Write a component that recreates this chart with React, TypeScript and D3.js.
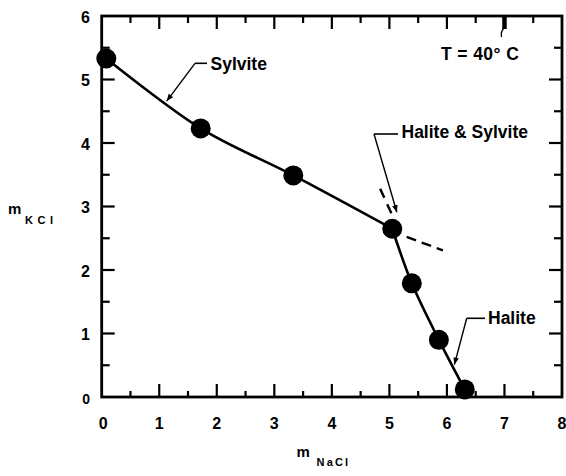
import React from "react";
import * as d3 from "d3";

// Solubility data at 40 °C (molality)
const sylviteNaCl = [0.08, 1.72, 3.33, 5.05];
const sylviteKCl = [5.33, 4.23, 3.49, 2.65];
const haliteNaCl = [5.05, 5.39, 5.86, 6.31];
const haliteKCl = [2.65, 1.79, 0.9, 0.12];

// Dashed metastable extensions
const haliteExtNaCl = [4.84, 5.04];
const haliteExtKCl = [3.28, 2.88];
const sylviteExtNaCl = [5.3, 5.93];
const sylviteExtKCl = [2.52, 2.31];

const xTicks = [0, 1, 2, 3, 4, 5, 6, 7, 8];
const yTicks = [0, 1, 2, 3, 4, 5, 6];
const xMinor = [0.5, 1.5, 2.5, 3.5, 4.5, 5.5, 6.5, 7.5];
const yMinor = [0.5, 1.5, 2.5, 3.5, 4.5, 5.5];

const labelTexts = ["Sylvite", "Halite & Sylvite", "Halite"];
// leader tips on the curve (NaCl, KCl)
const labelTipNaCl = [1.13, 5.13, 6.13];
const labelTipKCl = [4.66, 2.91, 0.51];

const W = 566;
const H = 476;
const FONT = "'Liberation Sans', Arial, Helvetica, sans-serif";

export default function App() {
  const x = d3.scaleLinear().domain([0, 8]).range([101.7, 562]);
  const y = d3.scaleLinear().domain([0, 6]).range([397, 16]);

  const line = d3
    .line<[number, number]>()
    .x((d) => x(d[0]))
    .y((d) => y(d[1]))
    .curve(d3.curveCatmullRom.alpha(0.5));
  const straight = d3
    .line<[number, number]>()
    .x((d) => x(d[0]))
    .y((d) => y(d[1]));

  const sylPts = sylviteNaCl.map((v, i) => [v, sylviteKCl[i]] as [number, number]);
  const halPts = haliteNaCl.map((v, i) => [v, haliteKCl[i]] as [number, number]);
  const allPts = [...sylPts, ...halPts.slice(1)];

  const x0 = x(0), x1 = x(8), y0 = y(0), y1 = y(6);

  // leader geometry (pixel offsets relative to tip handled here as layout)
  const leaders = [
    { elbow: [195, 63.3], hEnd: 207, tx: 210.5, ty: 69.5 },
    { elbow: [374, 134], hEnd: 398, tx: 401.5, ty: 137.5 },
    { elbow: [466.7, 318.3], hEnd: 485, tx: 488, ty: 324.3 },
  ];

  return (
    <svg
      width={W}
      height={H}
      style={{ position: "absolute", left: 0, top: 0, background: "#fff" }}
      fontFamily={FONT}
    >
      <defs>
        <marker
          id="arr"
          viewBox="0 0 10 10"
          refX="10"
          refY="5"
          markerWidth="9"
          markerHeight="7"
          markerUnits="userSpaceOnUse"
          orient="auto"
        >
          <path d="M0,1 L10,5 L0,9 z" fill="#000" />
        </marker>
      </defs>
      <rect width={W} height={H} fill="#fff" />

      {/* ticks */}
      <g stroke="#000" strokeWidth={2.2}>
        {xTicks.slice(1, -1).map((t) => (
          <g key={"xt" + t}>
            <line x1={x(t)} x2={x(t)} y1={y0} y2={y0 - 13} />
            <line x1={x(t)} x2={x(t)} y1={y1} y2={y1 + 13} strokeWidth={t === 7 ? 4.5 : 2.2} />
          </g>
        ))}
        {xMinor.map((t) => (
          <g key={"xm" + t}>
            <line x1={x(t)} x2={x(t)} y1={y0} y2={y0 - 6} />
            <line x1={x(t)} x2={x(t)} y1={y1} y2={y1 + 7} />
          </g>
        ))}
        {yTicks.slice(1, -1).map((t) => (
          <g key={"yt" + t}>
            <line x1={x0} x2={x0 + 13} y1={y(t)} y2={y(t)} />
            <line x1={x1} x2={x1 - 13} y1={y(t)} y2={y(t)} />
          </g>
        ))}
        {yMinor.map((t) => (
          <g key={"ym" + t}>
            <line x1={x0} x2={x0 + 8} y1={y(t)} y2={y(t)} />
            <line x1={x1} x2={x1 - 8} y1={y(t)} y2={y(t)} />
          </g>
        ))}
      </g>
      {/* scan artifact near top */}
      <path
        d={`M${x(7)},${y1 + 12} Q${x(7) - 4},${y1 + 15} ${x(7) - 3},${y1 + 21}`}
        fill="none"
        stroke="#000"
        strokeWidth={1.3}
      />

      {/* frame */}
      <rect
        x={x0}
        y={y1}
        width={x1 - x0}
        height={y0 - y1}
        fill="none"
        stroke="#000"
        strokeWidth={2.8}
      />

      {/* tick labels */}
      <g fontSize={16} fontWeight="bold" fill="#000">
        {xTicks.map((t) => (
          <text
            key={"xl" + t}
            x={t === 0 ? x(t) + 1.5 : x(t)}
            y={429}
            textAnchor="middle"
          >
            {t}
          </text>
        ))}
        {yTicks.map((t) => (
          <text
            key={"yl" + t}
            x={90}
            y={y(t) + 6.5}
            textAnchor="end"
            fontSize={t === 0 ? 14 : 16}
          >
            {t}
          </text>
        ))}
      </g>

      {/* axis titles */}
      <g fontWeight="bold" fill="#000">
        <text x={8} y={213.5} fontSize={15}>m</text>
        <text x={25} y={223.5} fontSize={11} letterSpacing={4.5}>KCl</text>
        <text x={296.5} y={457} fontSize={15}>m</text>
        <text x={316.5} y={465.5} fontSize={11} letterSpacing={2.2}>NaCl</text>
      </g>

      {/* solubility curve */}
      <path d={line(sylPts) || ""} fill="none" stroke="#000" strokeWidth={2.6} />
      <path d={line(halPts) || ""} fill="none" stroke="#000" strokeWidth={2.6} />

      {/* dashed extensions */}
      <path
        d={straight(haliteExtNaCl.map((v, i) => [v, haliteExtKCl[i]] as [number, number])) || ""}
        fill="none"
        stroke="#000"
        strokeWidth={2.4}
        strokeDasharray="10 7"
      />
      <path
        d={straight(sylviteExtNaCl.map((v, i) => [v, sylviteExtKCl[i]] as [number, number])) || ""}
        fill="none"
        stroke="#000"
        strokeWidth={2.4}
        strokeDasharray="10 6"
      />

      {/* data points */}
      {allPts.map((p, i) => (
        <circle key={"pt" + i} cx={x(p[0])} cy={y(p[1])} r={10} fill="#000" />
      ))}

      {/* annotations */}
      {labelTexts.map((t, i) => {
        const L = leaders[i];
        const tip = [x(labelTipNaCl[i]), y(labelTipKCl[i])];
        return (
          <g key={"lab" + i}>
            <line x1={L.elbow[0]} y1={L.elbow[1]} x2={L.hEnd} y2={L.elbow[1]} stroke="#000" strokeWidth={1.6} />
            <line
              x1={L.elbow[0]}
              y1={L.elbow[1]}
              x2={tip[0]}
              y2={tip[1]}
              stroke="#000"
              strokeWidth={1.4}
              markerEnd="url(#arr)"
            />
            <text x={L.tx} y={L.ty} fontSize={17.5} fontWeight="bold" fill="#000">
              {t}
            </text>
          </g>
        );
      })}

      <text x={441} y={60} fontSize={17.5} fontWeight="bold" fill="#000" letterSpacing={0.4}>
        T = 40° C
      </text>
    </svg>
  );
}
